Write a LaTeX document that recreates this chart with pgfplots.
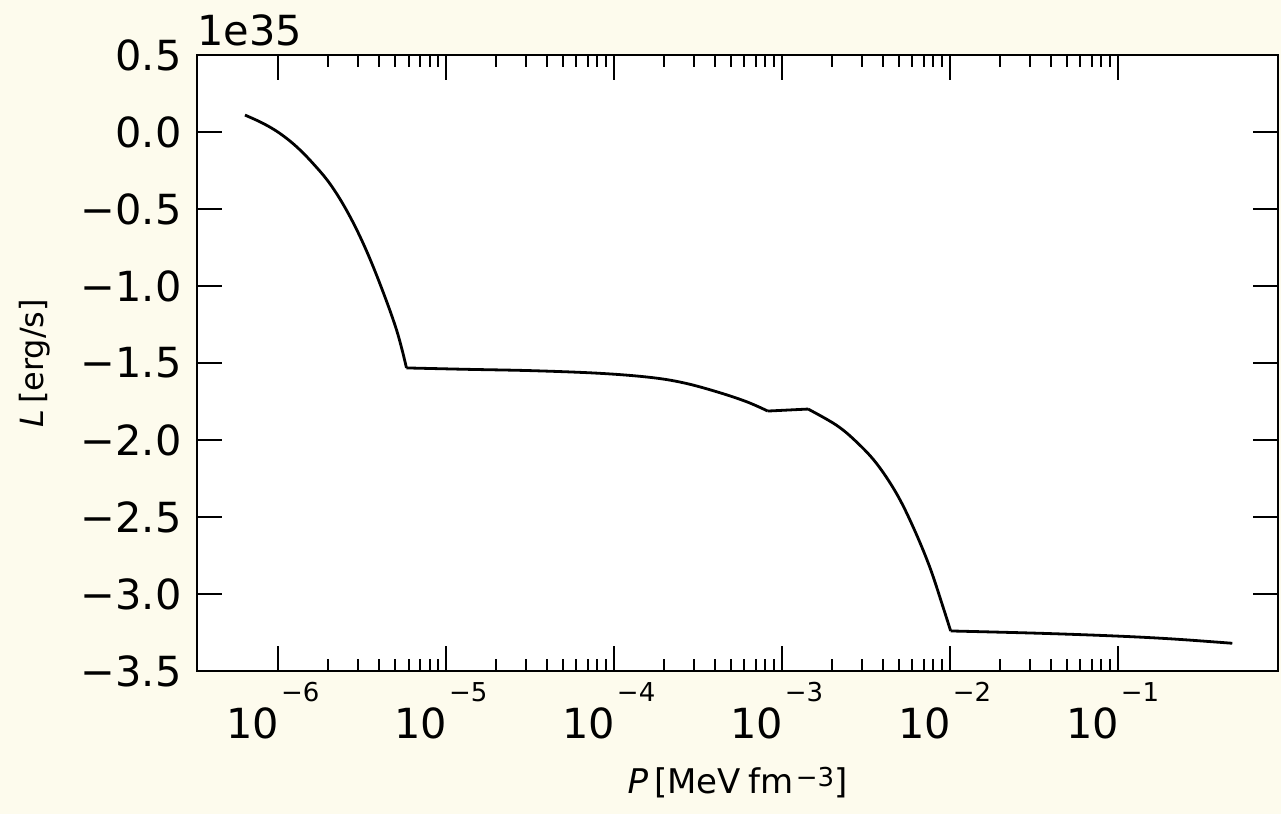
\documentclass[border=0pt]{standalone}
\usepackage{fontspec}
\setmainfont{DejaVu Sans}
\usepackage{pgfplots}
\pgfplotsset{compat=1.18}
\usetikzlibrary{backgrounds}
\definecolor{bgcream}{RGB}{253,251,237}
% tick label for a power of ten, superscript set well above the base
\newcommand{\decade}[1]{10\hspace{1pt}\raisebox{18.5pt}{\fontsize{13}{15}\selectfont −#1}}
\begin{document}
\begin{tikzpicture}
\begin{axis}[
  scale only axis,
  width=540.5pt, height=308pt,
  xmode=log,
  xmin=3.30e-7, xmax=0.902,
  ymin=-3.5, ymax=0.5,
  axis background/.style={fill=white},
  axis line style={black, line width=1.2pt},
  tick align=inside,
  xtick pos=both, ytick pos=both,
  xticklabel pos=lower, yticklabel pos=left,
  major tick length=12.5pt, minor tick length=6pt,
  every tick/.style={black, line width=1pt},
  xtick={1e-6,1e-5,1e-4,1e-3,1e-2,1e-1},
  xticklabels={\decade{6},\decade{5},\decade{4},\decade{3},\decade{2},\decade{1}},
  ytick={-3.5,-3,-2.5,-2,-1.5,-1,-0.5,0,0.5},
  yticklabels={−3.5,−3.0,−2.5,−2.0,−1.5,−1.0,−0.5,0.0,0.5},
  ticklabel style={font=\fontsize{20.75}{24}\selectfont, inner sep=0pt},
  xticklabel style={anchor=north, yshift=-5.5pt, xshift=-2.5pt},
  yticklabel style={anchor=east, xshift=-7.5pt},
  xlabel={{\itshape P}\hspace{3pt}[MeV\hspace{4pt}fm\hspace{1pt}\raisebox{3.5pt}{\fontsize{13}{15}\selectfont −3}]},
  ylabel={{\itshape L}\,[erg/s]},
  every axis x label/.style={at={(axis description cs:0.5,0)}, anchor=base,
    yshift=-61pt, font=\fontsize{17}{20}\selectfont},
  every axis y label/.style={at={(axis description cs:0,0.5)}, xshift=-81pt,
    anchor=center, rotate=90, font=\fontsize{16}{19}\selectfont},
  clip=false,
]
% outer crust: steep fall
\addplot[black, line width=1.4pt, smooth, tension=0.6] coordinates {
  (6.37e-7, 0.110) (8.17e-7, 0.056) (1.028e-6, -0.009) (1.291e-6, -0.095)
  (1.622e-6, -0.205) (2.042e-6, -0.336) (2.564e-6, -0.508) (3.221e-6, -0.723)
  (4.046e-6, -0.983) (5.093e-6, -1.286) (5.834e-6, -1.532)
};
% plateau
\addplot[black, line width=1.4pt, smooth, tension=0.6] coordinates {
  (5.834e-6, -1.532) (1.327e-5, -1.541) (3.311e-5, -1.550) (8.26e-5, -1.567)
  (1.637e-4, -1.593) (2.588e-4, -1.628) (4.083e-4, -1.686) (6.166e-4, -1.751)
  (8.26e-4, -1.812)
};
% short step
\addplot[black, line width=1.4pt] coordinates {
  (8.26e-4, -1.812) (1.436e-3, -1.799)
};
% second fall
\addplot[black, line width=1.4pt, smooth, tension=0.6] coordinates {
  (1.436e-3, -1.799) (2.113e-3, -1.903) (2.780e-3, -2.011) (3.664e-3, -2.151)
  (4.819e-3, -2.346) (6.053e-3, -2.563) (7.603e-3, -2.823) (9.12e-3, -3.082)
  (1.014e-2, -3.240)
};
% tail
\addplot[black, line width=1.4pt, smooth, tension=0.6] coordinates {
  (1.014e-2, -3.240) (3.436e-2, -3.255) (9.82e-2, -3.273) (0.2133, -3.292)
  (0.482, -3.320)
};
\node[anchor=base west, inner sep=0pt, font=\fontsize{20.75}{24}\selectfont]
  at ([yshift=5pt]rel axis cs:0,1) {1e35};
\end{axis}
\begin{scope}[on background layer]
\fill[bgcream] ([xshift=-98.5pt,yshift=-71.5pt]current axis.south west)
  rectangle ([xshift=1.5pt,yshift=27.5pt]current axis.north east);
\end{scope}
\end{tikzpicture}
\end{document}
